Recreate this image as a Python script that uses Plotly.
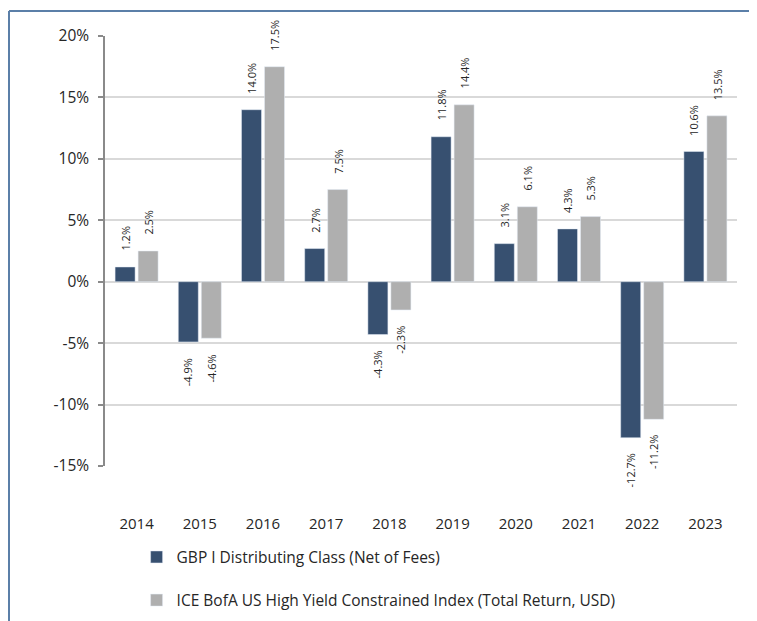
import plotly.graph_objects as go

years = ["2014", "2015", "2016", "2017", "2018", "2019", "2020", "2021", "2022", "2023"]
fund = [1.2, -4.9, 14.0, 2.7, -4.3, 11.8, 3.1, 4.3, -12.7, 10.6]
index = [2.5, -4.6, 17.5, 7.5, -2.3, 14.4, 6.1, 5.3, -11.2, 13.5]
fund_name = "GBP I Distributing Class (Net of Fees)"
index_name = "ICE BofA US High Yield Constrained Index (Total Return, USD)"
y_ticks = [-15, -10, -5, 0, 5, 10, 15, 20]
y_tick_labels = ["-15%", "-10%", "-5%", "0%", "5%", "10%", "15%", "20%"]

DARK = "#375070"
GRAY = "#afafaf"
FONT = "Open Sans"

# page body has an 8px margin, so figure coords = page coords - 8
L, R, T, B = 97, 28, 28, 163
PW = 757 - L - R
PH = 621 - T - B

fig = go.Figure()
fig.add_trace(go.Bar(x=years, y=fund, name=fund_name, marker_color=DARK,
                     legendgroup="a"))
fig.add_trace(go.Bar(x=years, y=index, name=index_name, marker_color=GRAY,
                     legendgroup="b"))

annotations = []
for series, shift in ((fund, -11.5), (index, 11.5)):
    for i, v in enumerate(series):
        pos = v >= 0
        annotations.append(dict(
            x=i, y=v, xref="x", yref="y", text=f"{v:.1f}%",
            showarrow=False, textangle=-90, xshift=shift,
            yanchor="bottom" if pos else "top",
            yshift=14 if pos else -14,
            font=dict(family=FONT, size=11, color="#262626"),
        ))

fx = lambda px: (px - L) / PW
fy = lambda py: (T + PH - py) / PH

fig.update_layout(
    width=757, height=621,
    margin=dict(l=L, r=R, t=T, b=B),
    paper_bgcolor="white", plot_bgcolor="white",
    barmode="group", bargap=0.272, bargroupgap=0.13,
    font=dict(family=FONT, size=13, color="#262626"),
    showlegend=True,
    legend=dict(orientation="v", x=0.05, xanchor="left", y=-0.173, yanchor="top",
                itemwidth=30,
                tracegroupgap=20, font=dict(family=FONT, size=15.5, color="#262626"),
                bgcolor="rgba(0,0,0,0)"),
    annotations=annotations,
    xaxis=dict(type="category", range=[-0.5, 9.5], autorange=False,
               showgrid=False, showline=False, ticks="",
               ticklabelstandoff=47,
               tickfont=dict(family=FONT, size=15, color="#262626")),
    yaxis=dict(range=[-15, 20], tickvals=y_ticks, ticktext=y_tick_labels,
               showgrid=True, gridcolor="#d9d9d9", gridwidth=1.5,
               zeroline=True, zerolinecolor="#d9d9d9", zerolinewidth=1.5,
               showline=True, linecolor="#8a8a8a", linewidth=1.5,
               ticks="outside", ticklen=5, tickcolor="#8a8a8a", tickwidth=1.5,
               ticklabelstandoff=6,
               tickfont=dict(family=FONT, size=15.5, color="#262626")),
    shapes=[
        dict(type="line", xref="paper", yref="paper",
             x0=fx(1), x1=fx(760), y0=fy(3), y1=fy(3),
             line=dict(color="#5b7fa8", width=2)),
        dict(type="line", xref="paper", yref="paper",
             x0=fx(1), x1=fx(1), y0=fy(3), y1=fy(630),
             line=dict(color="#5b7fa8", width=2)),
    ],
)

fig.write_html("out.html")
